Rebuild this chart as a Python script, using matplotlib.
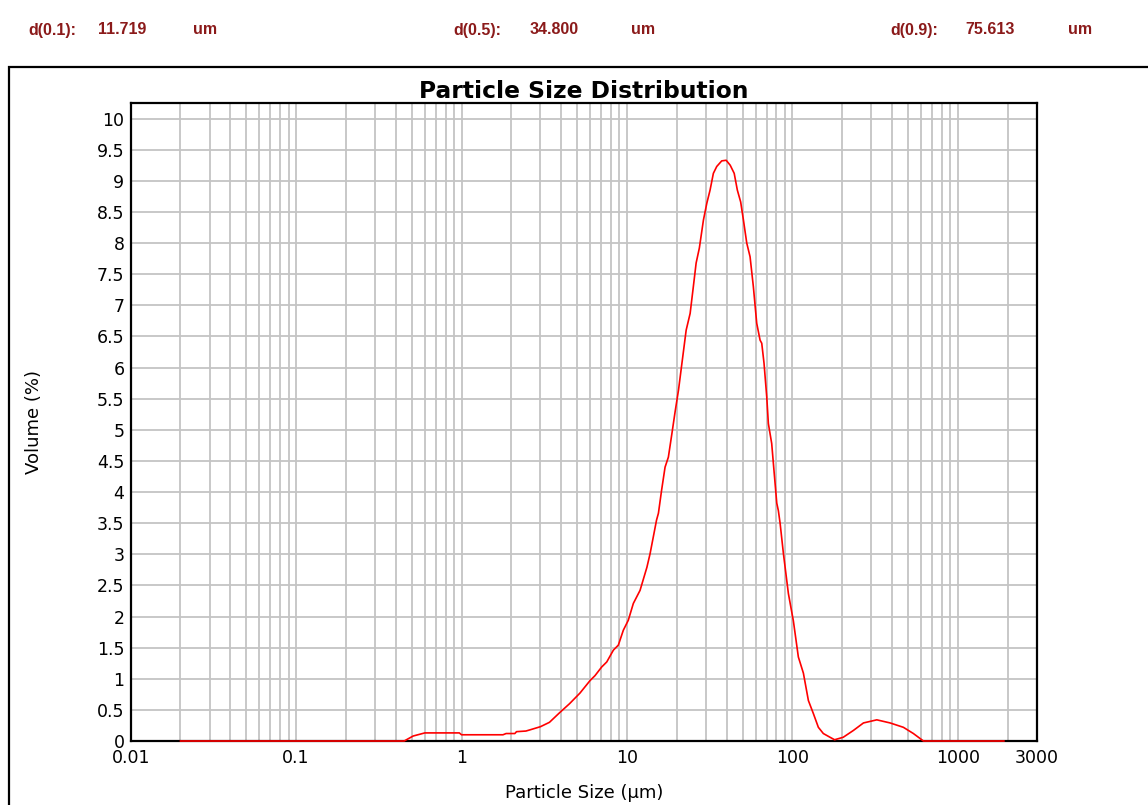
import numpy as np
import matplotlib
matplotlib.use("Agg")
import matplotlib.pyplot as plt
from matplotlib.patches import Rectangle
from matplotlib.ticker import FixedLocator, LogLocator, NullFormatter

# Volume distribution (%) against particle size (um)
sizes_um = [0.02, 0.45, 0.51, 0.60, 0.97, 1.00, 1.78, 1.86, 2.10, 2.15,
            2.45, 2.60, 3.0, 3.4, 3.9, 4.5, 5.2, 5.98, 6.41, 7.04,
            7.55, 8.28, 8.87, 9.51, 10.19, 10.93, 12.0, 13.2, 13.8, 15.1,
            15.5, 16.2, 17.0, 17.8, 18.7, 19.5, 20.5, 21.5, 22.8, 24.1,
            25.2, 26.2, 27.4, 29.0, 30.4, 31.8, 33.3, 34.9, 37.4, 39.8,
            42.1, 44.5, 46.5, 48.7, 50.6, 53.0, 55.5, 58.1, 60.9, 63.8,
            65.3, 67.4, 70.0, 71.6, 75.0, 77.4, 80.5, 82.3, 84.3, 88.3,
            94.6, 101.4, 108.7, 116.6, 125, 134, 143.6, 153.9, 168.9, 180,
            203, 234, 269, 324, 390, 469, 539, 620, 1900]
volume_pct = [0, 0, 0.08, 0.13, 0.13, 0.10, 0.10, 0.12, 0.12, 0.15,
              0.16, 0.18, 0.23, 0.30, 0.45, 0.60, 0.77, 0.97, 1.05, 1.19,
              1.27, 1.46, 1.54, 1.78, 1.94, 2.21, 2.42, 2.79, 3.01, 3.55,
              3.66, 4.03, 4.40, 4.56, 4.94, 5.27, 5.64, 6.07, 6.60, 6.87,
              7.30, 7.68, 7.92, 8.37, 8.64, 8.85, 9.12, 9.23, 9.32, 9.33,
              9.25, 9.12, 8.85, 8.66, 8.37, 8.00, 7.78, 7.30, 6.71, 6.44,
              6.39, 6.07, 5.53, 5.10, 4.78, 4.35, 3.82, 3.70, 3.50, 3.01,
              2.37, 1.93, 1.35, 1.09, 0.65, 0.44, 0.22, 0.12, 0.06, 0.02,
              0.06, 0.17, 0.29, 0.34, 0.29, 0.22, 0.12, 0.0, 0.0]

# Percentile summary shown above the chart
pct_labels = ["d(0.1):", "d(0.5):", "d(0.9):"]
pct_values = ["11.719", "34.800", "75.613"]
pct_unit = "um"

x_ticks = [0.01, 0.1, 1, 10, 100, 1000, 3000]
x_tick_labels = ["0.01", "0.1", "1", "10", "100", "1000", "3000"]
y_ticks = np.arange(0, 10.01, 0.5)

W, H = 1148, 805
fig = plt.figure(figsize=(W / 100, H / 100), dpi=100)
fig.patch.set_facecolor("white")

# plot area in pixel units
left, right, top, bottom = 130.7, 1036.7, 103, 741
ax = fig.add_axes([left / W, 1 - bottom / H, (right - left) / W, (bottom - top) / H])

ax.plot(sizes_um, volume_pct, color="#ff0000", lw=1.2, zorder=3, clip_on=False)

ax.set_xscale("log")
ax.set_xlim(0.01, 3000)
ax.set_ylim(0, 10.25)

ax.xaxis.set_major_locator(FixedLocator(x_ticks))
ax.set_xticklabels(x_tick_labels)
ax.xaxis.set_minor_locator(LogLocator(base=10, subs=np.arange(2, 10), numticks=50))
ax.xaxis.set_minor_formatter(NullFormatter())
ax.set_yticks(y_ticks)
ax.set_yticklabels(["%g" % v for v in y_ticks])

ax.grid(True, which="both", color="#c4c4c4", lw=1.3, zorder=0)
ax.set_axisbelow(True)
ax.tick_params(which="both", length=0)
ax.tick_params(axis="y", pad=4.5, labelsize=12.5)
ax.tick_params(axis="x", pad=6, labelsize=12.5)
for s in ax.spines.values():
    s.set_color("black")
    s.set_linewidth(1.6)

ax.set_title("Particle Size Distribution", fontsize=16.8, fontweight="bold", pad=2)
ax.set_xlabel("Particle Size (\u03bcm)", fontsize=13, labelpad=12)
ax.set_ylabel("Volume (%)", fontsize=13, labelpad=39)

# outer frame around the chart panel
fig.add_artist(Rectangle((9 / W, -0.1), 1.2, 1 - 67 / H + 0.1,
                         transform=fig.transFigure, fill=False,
                         edgecolor="black", lw=1.6))

# header row with percentile values
head_y = 1 - 30 / H
label_x = [28, 453, 890]
value_x = [98, 530, 965]
unit_x = [193, 631, 1068]
for lab, val, lx, vx, ux in zip(pct_labels, pct_values, label_x, value_x, unit_x):
    for txt, px in ((lab, lx), (val, vx), (pct_unit, ux)):
        fig.text(px / W, head_y, txt, family="Liberation Sans", fontweight="bold",
                 fontsize=11.5, color="#8b1a1a", va="center", ha="left")

fig.savefig("out.png", dpi=100, facecolor="white")
